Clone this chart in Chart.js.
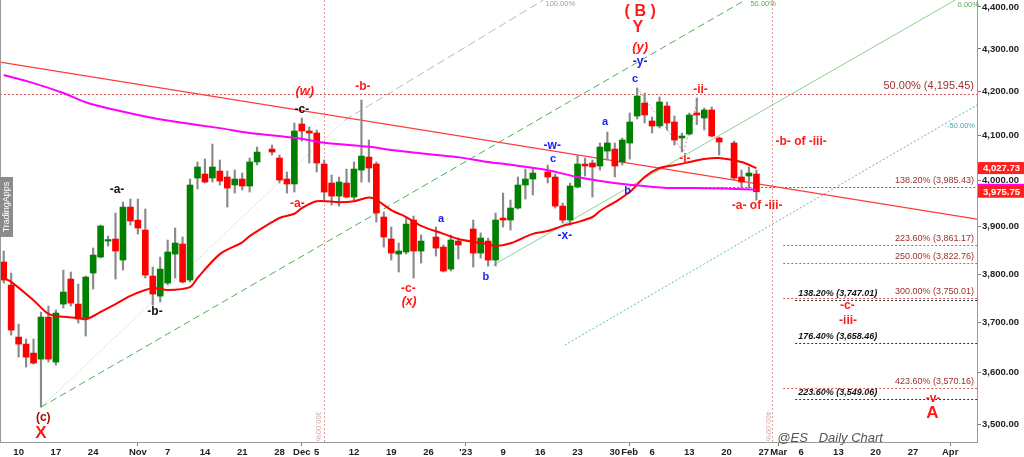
<!DOCTYPE html>
<html>
<head>
<meta charset="utf-8">
<script src="https://cdn.jsdelivr.net/npm/chart.js@4.4.0/dist/chart.umd.min.js"></script>
<style>
  html, body { margin: 0; padding: 0; background: #fff; }
</style>
</head>
<body>
<canvas id="esChart" width="1024" height="457"></canvas>
<script>
// trading days shown on the chart (holidays are empty slots)
const tradeDays = [
  '2022-10-06','2022-10-07','2022-10-10','2022-10-11','2022-10-12','2022-10-13','2022-10-14','2022-10-17','2022-10-18','2022-10-19','2022-10-20','2022-10-21','2022-10-24','2022-10-25','2022-10-26','2022-10-27','2022-10-28','2022-10-31',
  '2022-11-01','2022-11-02','2022-11-03','2022-11-04','2022-11-07','2022-11-08','2022-11-09','2022-11-10','2022-11-11','2022-11-14','2022-11-15','2022-11-16','2022-11-17','2022-11-18','2022-11-21','2022-11-22','2022-11-23','2022-11-25','2022-11-28','2022-11-29','2022-11-30',
  '2022-12-01','2022-12-02','2022-12-05','2022-12-06','2022-12-07','2022-12-08','2022-12-09','2022-12-12','2022-12-13','2022-12-14','2022-12-15','2022-12-16','2022-12-19','2022-12-20','2022-12-21','2022-12-22','2022-12-23','2022-12-27','2022-12-28','2022-12-29','2022-12-30',
  '2023-01-03','2023-01-04','2023-01-05','2023-01-06','2023-01-09','2023-01-10','2023-01-11','2023-01-12','2023-01-13','2023-01-17','2023-01-18','2023-01-19','2023-01-20','2023-01-23','2023-01-24','2023-01-25','2023-01-26','2023-01-27','2023-01-30','2023-01-31',
  '2023-02-01','2023-02-02','2023-02-03','2023-02-06','2023-02-07','2023-02-08','2023-02-09','2023-02-10','2023-02-13','2023-02-14','2023-02-15','2023-02-16','2023-02-17','2023-02-21','2023-02-22','2023-02-23','2023-02-24'
];

const openPrices = [
  3825.3,3777.3,3671.0,3656.9,3638.9,3626.9,3711.5,3621.0,3738.1,3789.8,3738.1,3709.5,3802.3,3835.8,3869.6,3874.0,3829.5,3942.5,
  3914.5,3893.1,3796.0,3754.5,3781.5,3842.1,3863.3,3787.7,4005.8,4014.6,4005.8,4021.2,4008.0,3990.5,4003.6,3988.3,4041.2,4070.0,4050.0,4003.6,3992.7,
  4126.3,4110.5,4106.0,4036.7,3994.8,3966.4,3994.8,3964.2,4023.4,4052.2,4036.7,3921.0,3874.0,3842.1,3846.4,3914.5,3848.5,3878.2,3856.9,3810.6,3869.6,
  3895.3,3844.2,3869.6,3829.5,3918.8,3914.5,3940.3,3990.5,4003.6,4019.0,4008.0,3944.6,3914.5,3986.1,4036.7,4038.9,4032.3,4065.5,4070.0,4041.2,
  4083.5,4144.5,4174.1,4133.2,4121.8,4167.3,4130.9,4094.7,4103.7,4151.3,4140.0,4158.2,4094.7,4083.5,4008.0,4010.2,4014.6
];
const highPrices = [
  3848.5,3802.3,3697.3,3667.0,3667.0,3721.7,3734.0,3725.9,3808.5,3804.4,3779.4,3796.0,3854.8,3903.8,3880.3,3929.6,3953.3,3959.9,
  3959.9,3938.2,3814.8,3835.8,3871.8,3897.4,3878.2,4003.6,4041.2,4047.8,4081.2,4045.6,4021.2,4023.4,4016.8,4050.0,4074.5,4079.0,4056.6,4019.0,4128.6,
  4140.0,4119.5,4112.8,4045.6,4012.4,4008.0,4025.6,4041.2,4181.0,4090.2,4041.2,3931.7,3899.5,3865.4,3921.0,3923.1,3882.5,3899.5,3861.2,3882.5,3876.1,
  3914.5,3886.8,3876.1,3929.6,3972.9,3957.7,4008.0,4025.6,4027.9,4034.5,4014.6,3951.1,3994.8,4056.6,4050.0,4045.6,4083.5,4108.2,4083.5,4094.7,
  4151.3,4208.7,4197.1,4142.2,4187.9,4176.4,4144.5,4106.0,4151.3,4185.6,4162.7,4165.0,4097.0,4088.0,4023.4,4030.1,4023.4
];
const lowPrices = [
  3781.5,3675.0,3630.9,3611.1,3617.0,3532.6,3621.0,3615.0,3730.0,3734.0,3699.3,3673.0,3769.1,3833.7,3859.0,3789.8,3808.5,3903.8,
  3884.6,3791.8,3736.1,3742.3,3777.3,3791.8,3781.5,3783.6,3981.7,3994.8,3997.0,3990.5,3942.5,3972.9,3979.5,3975.1,4034.5,4056.6,3994.8,3972.9,3975.1,
  4088.0,4038.9,4019.0,3957.7,3946.8,3944.6,3962.0,3957.7,3997.0,3997.0,3910.2,3856.9,3829.5,3804.4,3842.1,3791.8,3823.2,3837.9,3804.4,3806.5,3831.6,
  3814.8,3833.7,3816.9,3816.9,3899.5,3893.1,3938.0,3959.9,3968.6,3994.8,3940.3,3908.1,3903.8,3983.9,4010.2,3964.2,4023.4,4045.6,4008.0,4034.5,
  4047.8,4137.7,4128.6,4106.0,4117.2,4112.8,4079.0,4063.3,4101.5,4125.0,4112.8,4097.0,4056.6,4001.4,3983.9,3983.9,3957.7
];
const closePrices = [
  3787.7,3685.1,3656.9,3630.9,3619.0,3711.5,3626.9,3719.7,3762.8,3740.1,3707.4,3793.9,3840.0,3901.7,3871.8,3848.5,3942.5,3912.4,
  3897.4,3798.1,3758.7,3810.6,3846.4,3865.4,3783.6,3990.5,4030.1,3997.0,4030.1,3999.2,3983.9,4003.6,3988.3,4041.2,4063.3,4063.3,4001.4,3992.7,4110.5,
  4110.5,4106.0,4038.9,3975.1,3966.4,3997.0,3964.2,4025.6,4054.4,4027.9,3929.6,3878.2,3844.2,3848.5,3905.9,3848.5,3869.6,3854.8,3806.5,3871.8,3861.2,
  3844.2,3876.1,3829.5,3914.5,3914.5,3940.3,3990.5,4003.6,4016.8,4008.0,3944.6,3914.5,3988.3,4036.7,4032.3,4030.1,4074.5,4083.5,4032.3,4090.2,
  4130.9,4190.2,4146.8,4121.8,4176.4,4128.6,4090.2,4099.2,4146.8,4146.8,4158.2,4099.2,4085.8,4005.8,3997.0,4016.8,3975.75
];

// red moving average
const redMaDates = ['2022-10-06','2022-10-07','2022-10-12','2022-10-14','2022-10-18','2022-10-20','2022-10-21','2022-10-25','2022-10-27','2022-10-31',
  '2022-11-03','2022-11-07','2022-11-10','2022-11-11','2022-11-16','2022-11-21','2022-11-22','2022-11-25','2022-11-28','2022-11-30',
  '2022-12-01','2022-12-05','2022-12-08','2022-12-12','2022-12-14','2022-12-15','2022-12-19','2022-12-21','2022-12-23','2022-12-28','2022-12-30',
  '2023-01-03','2023-01-05','2023-01-06','2023-01-10','2023-01-13','2023-01-17','2023-01-19','2023-01-23','2023-01-25','2023-01-26','2023-01-27','2023-01-30',
  '2023-02-01','2023-02-03','2023-02-07','2023-02-09','2023-02-13','2023-02-15','2023-02-17','2023-02-22','2023-02-24'];
const redMaValues = [3792,3784,3746,3718,3712,3710,3707,3722,3738,3755,
  3771,3767,3773,3792,3842,3867,3880,3910,3919,3928,
  3940,3955,3953,3955,3963,3958,3936,3921,3902,3885,3874,
  3868,3863,3859,3865,3885,3891,3902,3910,3921,3934,3944,3953,
  3975,4008,4028,4034,4041,4048,4050,4041,4027.73];

// magenta moving average
const magMaDates = ['2022-10-06','2022-10-12','2022-10-18','2022-10-21','2022-10-27','2022-11-03','2022-11-09','2022-11-16','2022-11-22','2022-11-29',
  '2022-12-01','2022-12-06','2022-12-14','2022-12-19','2022-12-27','2022-12-30','2023-01-05','2023-01-10','2023-01-17','2023-01-23','2023-01-27',
  '2023-02-01','2023-02-08','2023-02-14','2023-02-21','2023-02-24'];
const magMaValues = [4239,4220,4197,4176,4158,4140,4129,4117,4106,4097,
  4093,4084,4075,4068,4057,4052,4041,4035,4023,4008,3997,
  3991,3984,3984,3982,3980];

// x axis ticks
const tickDates = ['2022-10-10','2022-10-17','2022-10-24','2022-11-01','2022-11-07','2022-11-14','2022-11-21','2022-11-28','2022-12-01','2022-12-05',
  '2022-12-12','2022-12-19','2022-12-26','2023-01-02','2023-01-09','2023-01-16','2023-01-23','2023-01-30','2023-02-01','2023-02-06',
  '2023-02-13','2023-02-20','2023-02-27','2023-03-01','2023-03-06','2023-03-13','2023-03-20','2023-03-27','2023-04-03'];
const tickLabels = ['10','17','24','Nov','7','14','21','28','Dec','5','12','19','26',"'23",'9','16','23','30','Feb','6','13','20','27','Mar','6','13','20','27','Apr'];
const monthLabels = ['Nov','Dec',"'23",'Feb','Mar','Apr'];
const priceTicks = [3500,3600,3700,3800,3900,4000,4100,4200,4300,4400];

// fibonacci levels
const fibRedPct = ['50.00%','138.20%','223.60%','250.00%','300.00%','423.60%'];
const fibRedPrice = [4195.45,3985.43,3861.17,3822.76,3750.01,3570.16];
const fibBlackPct = ['138.20%','176.40%','223.60%'];
const fibBlackPrice = [3747.01,3658.46,3549.06];

// weekday slot count from the first bar
function slotOf(s) {
  const d = new Date(s + 'T00:00:00Z');
  const t = new Date(Date.UTC(2022, 9, 6));
  let n = 0;
  while (t < d) {
    t.setUTCDate(t.getUTCDate() + 1);
    const w = t.getUTCDay();
    if (w !== 0 && w !== 6) n++;
  }
  return n;
}

const FONT = '"Liberation Sans", Arial, sans-serif';
const slots = tradeDays.map(slotOf);
const bodies = slots.map((x, i) => ({x: x, y: [openPrices[i], closePrices[i]]}));
const wicks = slots.map((x, i) => ({x: x, y: [lowPrices[i], highPrices[i]]}));
const bodyColors = slots.map((x, i) => closePrices[i] >= openPrices[i] ? '#008000' : '#ff0000');
const redMa = redMaDates.map((d, i) => ({x: slotOf(d), y: redMaValues[i]}));
const magMa = magMaDates.map((d, i) => ({x: slotOf(d), y: magMaValues[i]}));
const tickSlots = tickDates.map(slotOf);

// drawn guide lines (slot, price)
function guide(pts, color, dash, width) {
  return {type: 'line', data: pts.map(p => ({x: p[0], y: p[1]})), borderColor: color, borderWidth: width || 1,
    borderDash: dash, pointRadius: 0, tension: 0, fill: false, order: 10};
}
const guides = [
  guide([[-0.5, 4269], [130.6, 3916.6]], '#ff3c3c', [], 1.3),
  guide([[5, 3532.6], [45.8, 4135.4]], '#b8b8b8', [1, 2]),
  guide([[45.8, 4135.4], [72.4, 4416.9]], '#b8b8b8', [8, 4]),
  guide([[5, 3532.6], [99.5, 4416.9]], '#4caf50', [7, 4]),
  guide([[65.7, 3819], [127.7, 4416.9]], '#8fcf8f', []),
  guide([[75.3, 3654.9], [130.6, 4169.6]], '#5fb8b8', [2, 2]),
  guide([[85, 4208.7], [91.2, 4063.3], [93.2, 4185.6]], '#c89090', [2, 2])
];

// text notes placed at (slot, price)
const notes = [
  ['( B )', 85.4, 4388, '#ff1a1a', 'bold 16px'],
  ['Y', 85.1, 4350, '#ff1a1a', 'bold 16px'],
  ['(y)', 85.4, 4304, '#ff1a1a', 'italic bold 13px'],
  ['-y-', 85.4, 4271, '#1a1aff', 'bold 12px'],
  ['c', 84.7, 4229, '#1a1aff', 'bold 11px'],
  ['(w)', 40.4, 4201, '#ff1a1a', 'italic bold 13px'],
  ['-b-', 48.2, 4211, '#ff1a1a', 'bold 12px'],
  ['-c-', 40.0, 4160, '#111', 'bold 12px'],
  ['-a-', 15.2, 3980, '#111', 'bold 12px'],
  ['-b-', 20.3, 3722, '#111', 'bold 12px'],
  ['(c)', 5.3, 3513, '#a01010', 'bold 12px'],
  ['X', 5.0, 3482, '#ff1a1a', 'bold 17px'],
  ['-a-', 39.4, 3949, '#ff1a1a', 'bold 12px'],
  ['a', 58.7, 3917, '#1a1aff', 'bold 11px'],
  ['b', 64.7, 3794, '#1a1aff', 'bold 11px'],
  ['-c-', 54.3, 3769, '#ff1a1a', 'bold 12px'],
  ['(x)', 54.4, 3742, '#ff1a1a', 'italic bold 12px'],
  ['a', 80.7, 4131, '#1a1aff', 'bold 11px'],
  ['-w-', 73.6, 4077, '#1a1aff', 'bold 12px'],
  ['c', 73.7, 4048, '#1a1aff', 'bold 11px'],
  ['-x-', 75.3, 3880, '#1a1aff', 'bold 12px'],
  ['b', 83.7, 3977, '#1a1aff', 'bold 11px'],
  ['-ii-', 93.5, 4204, '#ff1a1a', 'bold 12px'],
  ['-i-', 91.4, 4048, '#ff1a1a', 'bold 12px'],
  ['-a- of -iii-', 101.1, 3945, '#ff1a1a', 'bold 12px'],
  ['-b- of -iii-', 107.0, 4086, '#ff1a1a', 'bold 12px'],
  ['-c-', 113.2, 3734, '#ff1a1a', 'bold 12px'],
  ['-iii-', 113.3, 3705, '#ff1a1a', 'bold 12px'],
  ['-v-', 124.7, 3548, '#ff1a1a', 'bold 12px'],
  ['A', 124.6, 3520, '#ff1a1a', 'bold 17px']
];

const overlay = {
  id: 'overlay',
  beforeDatasetsDraw(chart) {
    const {ctx, chartArea: a, scales: {x, y}} = chart;
    ctx.save();
    ctx.beginPath();
    ctx.rect(a.left, a.top, a.right - a.left, a.bottom - a.top);
    ctx.clip();
    ctx.lineWidth = 1;
    ctx.setLineDash([2, 2]);
    // vertical projection lines
    ctx.strokeStyle = '#e09a9a';
    [43, 103.1].forEach(s => {
      const px = Math.round(x.getPixelForValue(s)) + 0.5;
      ctx.beginPath(); ctx.moveTo(px, a.top); ctx.lineTo(px, a.bottom); ctx.stroke();
    });
    const redStart = [-0.5, 92, 104.6, 104.6, 104.6, 104.6];
    fibRedPrice.forEach((p, i) => {
      ctx.strokeStyle = i === 1 ? '#a05050' : '#dd5a5a';
      const py = Math.round(y.getPixelForValue(p)) + 0.5;
      ctx.beginPath(); ctx.moveTo(x.getPixelForValue(redStart[i]), py); ctx.lineTo(a.right, py); ctx.stroke();
    });
    ctx.strokeStyle = '#333';
    fibBlackPrice.forEach(p => {
      const py = Math.round(y.getPixelForValue(p)) + 0.5;
      ctx.beginPath(); ctx.moveTo(x.getPixelForValue(106.2), py); ctx.lineTo(a.right, py); ctx.stroke();
    });
    ctx.restore();
  },
  afterDatasetsDraw(chart) {
    const {ctx, chartArea: a, scales: {x, y}} = chart;
    const fmt = v => v.toLocaleString('en-US', {minimumFractionDigits: 2, maximumFractionDigits: 2});
    ctx.save();
    ctx.textBaseline = 'middle';
    ctx.textAlign = 'center';
    notes.forEach(n => {
      ctx.font = n[4] + ' ' + FONT;
      ctx.fillStyle = n[3];
      ctx.fillText(n[0], x.getPixelForValue(n[1]), y.getPixelForValue(n[2]));
    });
    // fib labels
    ctx.textAlign = 'right';
    ctx.textBaseline = 'bottom';
    ctx.fillStyle = '#9c2f2f';
    fibRedPrice.forEach((p, i) => {
      ctx.font = (i === 0 ? '11px ' : '9px ') + FONT;
      ctx.fillText(fibRedPct[i] + ' (' + fmt(p) + ')', a.right - 3, y.getPixelForValue(p) - 2);
    });
    ctx.textAlign = 'left';
    ctx.fillStyle = '#111';
    ctx.font = 'italic bold 9px ' + FONT;
    fibBlackPrice.forEach((p, i) => {
      ctx.fillText(fibBlackPct[i] + ' (' + fmt(p) + ')', x.getPixelForValue(106.6), y.getPixelForValue(p) - 2);
    });
    // fan labels
    ctx.font = '7.5px ' + FONT;
    ctx.textBaseline = 'middle';
    ctx.fillStyle = '#a0a0a0'; ctx.fillText('100.00%', x.getPixelForValue(72.7), 4);
    ctx.fillStyle = '#5aaa5a'; ctx.fillText('50.00%', x.getPixelForValue(100.2), 4);
    ctx.fillText('0.00%', x.getPixelForValue(128), 5);
    ctx.textAlign = 'right';
    ctx.fillStyle = '#4aa6a6'; ctx.fillText('-50.00%', a.right - 2, y.getPixelForValue(4121.8));
    // rotated projection labels
    ctx.fillStyle = '#d6a8a8';
    ctx.textAlign = 'center';
    [[42.2, '300.00%'], [102.5, '400.00%']].forEach(v => {
      ctx.save();
      ctx.translate(x.getPixelForValue(v[0]), a.bottom - 16);
      ctx.rotate(Math.PI / 2);
      ctx.fillText(v[1], 0, 0);
      ctx.restore();
    });
    // chart caption
    ctx.font = 'italic 13px ' + FONT;
    ctx.fillStyle = '#555';
    ctx.textAlign = 'left';
    ctx.textBaseline = 'alphabetic';
    ctx.fillText('@ES   Daily Chart', x.getPixelForValue(103.8), a.bottom);
    ctx.restore();
  },
  afterDraw(chart) {
    const {ctx, chartArea: a, scales: {y}} = chart;
    const fmt = v => v.toLocaleString('en-US', {minimumFractionDigits: 2, maximumFractionDigits: 2});
    ctx.save();
    // left border
    ctx.strokeStyle = '#999';
    ctx.lineWidth = 1;
    ctx.beginPath(); ctx.moveTo(0.5, a.top); ctx.lineTo(0.5, a.bottom); ctx.stroke();
    // watermark
    ctx.fillStyle = '#8c8c8c';
    ctx.fillRect(0, 177, 13, 60);
    ctx.save();
    ctx.translate(7, 207);
    ctx.rotate(-Math.PI / 2);
    ctx.fillStyle = '#fff';
    ctx.font = '9px ' + FONT;
    ctx.textAlign = 'center';
    ctx.textBaseline = 'middle';
    ctx.fillText('TradingApps', 0, 0);
    ctx.restore();
    // last value boxes on the price axis
    const box = (v, fill, text) => {
      const py = y.getPixelForValue(v);
      ctx.fillStyle = fill;
      ctx.fillRect(a.right + 1, py - 6, 1024 - a.right - 1, 12);
      if (text) {
        ctx.fillStyle = '#fff';
        ctx.font = 'bold 9.5px ' + FONT;
        ctx.textAlign = 'left';
        ctx.textBaseline = 'middle';
        ctx.fillText(fmt(v), a.right + 6, py + 0.5);
      }
    };
    box(magMaValues[magMaValues.length - 1], '#ff00ff', false);
    box(closePrices[closePrices.length - 1], '#ff2020', true);
    box(redMaValues[redMaValues.length - 1], '#ff2020', true);
    ctx.restore();
  }
};

const noPad = s => { s.paddingTop = 0; s.paddingBottom = 0; s.paddingLeft = 0; s.paddingRight = 0; };

const ctx = document.getElementById('esChart').getContext('2d');
const chart = new Chart(ctx, {
  type: 'bar',
  data: {
    datasets: guides.concat([
      {type: 'line', data: magMa, borderColor: '#ff00ff', borderWidth: 2, pointRadius: 0, tension: 0.3, order: 0},
      {type: 'line', data: redMa, borderColor: '#ff0000', borderWidth: 2, pointRadius: 0, tension: 0.3, order: 0},
      {type: 'bar', data: wicks, backgroundColor: '#8a8a8a', barThickness: 1.5, grouped: false, order: 3},
      {type: 'bar', data: bodies, backgroundColor: bodyColors, barThickness: 6, grouped: false, minBarLength: 1.5, order: 2}
    ])
  },
  options: {
    responsive: false,
    animation: false,
    layout: {padding: 0},
    plugins: {legend: {display: false}, tooltip: {enabled: false}},
    scales: {
      x: {
        type: 'linear',
        min: -0.5,
        max: 130.6,
        offset: false,
        afterBuildTicks: s => { s.ticks = tickSlots.map(v => ({value: v})); },
        afterFit: s => { s.height = 15; noPad(s); },
        ticks: {
          autoSkip: false, maxRotation: 0, minRotation: 0, padding: 1,
          color: '#222', font: {family: FONT, size: 9.5, weight: 'bold'},
          callback: (v, i) => tickLabels[i]
        },
        grid: {
          offset: false, drawOnChartArea: false, tickLength: 4,
          color: c => (c.tick && monthLabels.includes(tickLabels[c.index])) ? '#777' : 'rgba(0,0,0,0)'
        },
        border: {display: true, color: '#9a9a9a'}
      },
      y: {
        type: 'logarithmic',
        position: 'right',
        min: 3465.6,
        max: 4416.9,
        afterBuildTicks: s => { s.ticks = priceTicks.map(v => ({value: v})); },
        afterFit: s => { s.width = 47; noPad(s); },
        ticks: {
          padding: 1, color: '#222', font: {family: FONT, size: 9.5, weight: 'bold'},
          callback: v => v.toLocaleString('en-US', {minimumFractionDigits: 2, maximumFractionDigits: 2})
        },
        grid: {drawOnChartArea: false, tickLength: 4, color: '#777'},
        border: {display: true, color: '#9a9a9a'}
      }
    }
  },
  plugins: [overlay]
});
</script>
</body>
</html>
